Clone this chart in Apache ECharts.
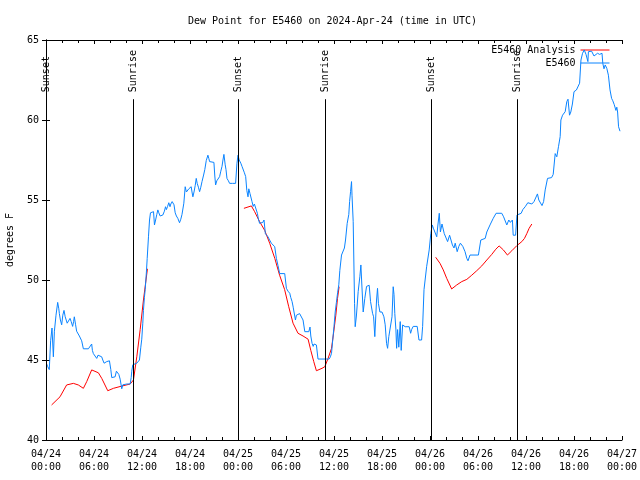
<!DOCTYPE html>
<html>
<head>
<meta charset="utf-8">
<script src="https://cdn.jsdelivr.net/npm/echarts@6/dist/echarts.min.js"></script>
<style>html,body{margin:0;padding:0;background:#fff}#c{width:640px;height:480px}</style>
</head>
<body>
<div id="c"></div>
<script>
// hours since 2024-04-24 00:00 UTC
var xTickLabels = ['04/24\n00:00','04/24\n06:00','04/24\n12:00','04/24\n18:00','04/25\n00:00','04/25\n06:00','04/25\n12:00','04/25\n18:00','04/26\n00:00','04/26\n06:00','04/26\n12:00','04/26\n18:00','04/27\n00:00'];
var sunHours = [0.1, 10.97, 24.12, 34.89, 48.16, 58.93];
var sunLabels = ['Sunset','Sunrise','Sunset','Sunrise','Sunset','Sunrise'];

var analysisHours = [0.7,1.75,2.58,3.42,4.04,4.67,5.09,5.71,6.55,6.97,7.72,8.43,9.47,10.52,10.93,11.35,11.77,12.18,12.68,18,
 24.74,25.67,26.08,26.7,27.34,27.96,28.6,29.2,29.83,30.34,30.88,31.5,32.13,32.76,33.1,33.47,33.8,34.5,34.85,35.26,35.69,35.9,36.23,36.44,36.64,42,
 48.71,49.25,49.66,50.09,50.71,51.34,51.97,52.6,53.22,53.84,54.47,55.1,55.72,56.22,56.64,57.17,57.68,58.23,58.86,59.48,59.81,60.1,60.39,60.73];
var analysisVals = [42.19,42.7,43.44,43.54,43.44,43.23,43.65,44.38,44.2,43.85,43.08,43.23,43.37,43.5,43.75,45.2,46.9,48.75,50.7,null,
 54.48,54.63,54.27,53.65,53.1,52.3,51.35,50.3,49.4,48.33,47.3,46.67,46.5,46.3,45.6,44.9,44.33,44.48,44.58,45.1,45.73,46.5,47.8,48.85,49.58,null,
 51.42,51.04,50.63,50.1,49.44,49.69,49.9,50.04,50.3,50.58,50.88,51.25,51.6,51.92,52.13,51.88,51.56,51.83,52.15,52.4,52.6,52.9,53.23,53.5];

var obsHours = [0.05,0.2,0.41,0.58,0.75,0.83,0.92,1.05,1.25,1.46,1.6,1.67,1.8,1.96,2.1,2.25,2.4,2.5,2.65,2.79,3.0,3.15,3.33,3.45,3.54,3.7,3.83,4.0,4.17,4.3,4.46,4.67,5.0,5.3,5.5,5.71,5.8,5.92,6.1,6.34,6.5,6.67,6.96,7.1,7.26,7.4,7.59,7.75,7.93,8.1,8.22,8.45,8.64,8.8,8.93,9.1,9.27,9.47,9.6,9.68,10.1,10.52,10.65,10.72,10.85,10.93,11.1,11.35,11.5,11.68,11.85,11.97,12.1,12.18,12.3,12.4,12.55,12.65,12.81,12.94,13.06,13.25,13.44,13.56,13.7,13.85,13.98,14.1,14.27,14.45,14.6,14.8,14.94,15.05,15.2,15.35,15.5,15.6,15.77,15.9,16.0,16.15,16.3,16.48,16.69,16.85,17.0,17.23,17.4,17.55,17.7,17.85,18.0,18.15,18.25,18.36,18.5,18.65,18.78,18.9,19.05,19.2,19.35,19.5,19.7,19.85,20.03,20.24,20.35,20.45,20.7,20.99,21.1,21.2,21.35,21.5,21.7,21.85,22.0,22.12,22.24,22.4,22.5,22.62,22.8,22.95,23.3,23.7,23.87,24.0,24.15,24.35,24.5,24.62,24.8,24.96,25.1,25.25,25.35,25.5,25.75,25.9,26.05,26.2,26.42,26.55,26.7,26.95,27.1,27.25,27.42,27.6,27.75,27.95,28.17,28.4,28.59,28.8,29.0,29.21,29.5,29.84,30.05,30.25,30.47,30.6,30.76,30.9,31.0,31.18,31.3,31.5,31.7,31.93,32.13,32.35,32.6,32.85,33.0,33.1,33.26,33.4,33.5,33.6,33.8,34.0,34.64,35.39,35.55,35.69,35.85,36.0,36.15,36.3,36.45,36.6,36.73,36.94,37.14,37.3,37.44,37.65,37.85,37.95,38.07,38.19,38.25,38.4,38.57,38.65,38.8,39.02,39.23,39.36,39.45,39.65,39.85,40.07,40.25,40.4,40.57,40.82,40.95,41.1,41.32,41.44,41.55,41.74,42.0,42.24,42.4,42.57,42.7,42.85,43.1,43.25,43.4,43.5,43.6,43.74,43.83,43.95,44.1,44.28,44.4,44.58,44.9,45.4,45.58,45.7,45.9,46.4,46.62,46.95,47.08,47.25,47.58,47.9,48.1,48.28,48.45,48.6,48.84,49.0,49.16,49.3,49.5,49.78,49.95,50.2,50.45,50.8,51.0,51.15,51.4,51.6,51.8,52.1,52.38,52.6,52.75,53.0,53.5,54.05,54.35,54.9,55.1,55.5,55.9,56.26,56.97,57.2,57.6,57.85,58.05,58.3,58.4,58.7,58.87,59.4,59.6,59.9,60.23,60.73,61.0,61.2,61.43,61.6,62.0,62.2,62.4,62.69,63.2,63.4,63.65,63.85,64.06,64.27,64.36,64.57,64.9,65.1,65.25,65.44,65.6,65.8,66.0,66.3,66.55,66.7,66.87,67.07,67.28,67.5,67.74,67.8,68.0,68.2,68.5,68.75,68.94,69.2,69.5,69.6,69.75,69.9,70.1,70.3,70.5,70.7,70.85,71.03,71.24,71.35,71.45,71.57,71.75];
var obsVals = [44.8,44.6,44.4,46.2,47.0,47.1,45.2,46.8,47.8,48.6,48.2,47.9,47.5,47.2,47.8,48.1,47.7,47.6,47.3,47.4,47.6,47.4,47.1,47.4,47.7,47.2,46.8,46.8,46.5,46.5,46.2,45.7,45.7,45.7,45.8,46.0,45.6,45.4,45.3,45.1,45.3,45.3,45.2,45.0,44.8,44.9,44.9,45.0,44.95,44.4,43.9,43.9,43.95,44.3,44.3,44.1,43.8,43.2,43.45,43.5,43.5,43.5,43.9,44.3,44.7,44.7,44.8,44.8,44.9,45.0,45.8,46.3,47.3,48.1,48.9,49.4,50.5,51.35,52.7,53.75,54.2,54.27,54.27,53.44,53.75,54.1,54.38,54.2,54.0,54.0,54.06,54.3,54.58,54.4,54.6,54.83,54.58,54.75,54.9,54.8,54.7,54.2,54.0,53.85,53.58,53.8,54.1,54.8,55.83,55.5,55.6,55.7,55.75,55.83,55.5,55.2,55.5,55.9,56.35,56.04,55.8,55.52,55.8,56.15,56.56,56.9,57.46,57.8,57.6,57.4,57.4,57.35,56.5,55.94,56.2,56.3,56.46,56.8,57.1,57.5,57.85,57.2,56.9,56.35,56.2,56.04,56.04,56.04,57.3,57.8,57.5,57.3,57.1,56.98,56.7,56.46,55.6,55.2,55.7,55.4,54.9,54.6,54.75,54.8,54.17,53.8,53.54,53.65,53.6,53.75,52.9,52.8,52.7,52.5,52.3,52.2,52.08,51.35,50.9,50.4,50.4,50.4,49.48,49.3,49.17,48.9,48.65,48.3,48.0,47.5,47.8,47.8,47.9,47.8,47.5,46.77,46.77,46.77,47.06,46.5,46.04,45.85,46.0,46.04,45.94,45.06,45.06,45.06,45.2,45.42,46.3,47.1,48.0,48.6,49.2,49.7,50.6,51.56,51.56,52.0,52.5,53.54,54.1,54.9,55.52,56.15,55.3,53.65,48.54,47.08,47.75,49.27,50.2,50.94,50.0,48.0,48.85,49.6,49.67,49.67,48.65,47.92,47.7,46.46,48.75,49.48,48.54,48.0,48.0,47.7,47.2,46.04,45.73,46.46,46.52,47.7,49.58,49.1,47.9,46.88,45.73,46.9,45.8,47.4,45.6,47.19,47.08,47.08,46.67,46.9,47.1,47.1,46.25,46.25,47.1,49.4,50.83,51.88,52.9,53.44,53.2,53.3,52.7,53.5,54.17,53.0,53.5,52.9,52.8,52.4,52.8,52.19,52.0,52.3,51.77,52.1,52.3,52.1,51.77,51.35,51.2,51.56,51.56,51.56,52.5,52.6,53.0,53.44,53.85,54.17,54.17,53.95,53.44,53.75,53.6,53.75,52.8,52.8,54.06,54.17,54.4,54.58,54.83,54.75,54.9,55.0,55.38,55.0,54.65,54.9,55.63,56.35,56.4,56.6,57.9,57.7,58.33,58.96,60.0,60.3,60.52,61.15,61.3,60.3,60.5,61.0,61.77,61.875,61.875,62.3,63.75,64.17,64.38,64.1,63.65,64.27,64.38,64.3,64.0,64.0,64.17,64.1,64.17,63.54,63.2,63.44,63.23,62.8,61.88,61.35,61.2,60.96,60.6,60.8,60.5,59.58,59.3];

var FONT = '"DejaVu Sans Mono", monospace';
function pairs(hs, vs) { return hs.map(function (h, i) { return [h, vs[i] == null ? '-' : vs[i]]; }); }

var chart = echarts.init(document.getElementById('c'), null, {renderer: 'canvas'});
var axisCommon = {
  type: 'value', min: 0, max: 72, interval: 6,
  axisLine: {lineStyle: {color: '#000', width: 1}},
  axisTick: {inside: true, length: 4, lineStyle: {color: '#000'}},
  minorTick: {show: true, splitNumber: 3, length: 3, lineStyle: {color: '#000'}},
  splitLine: {show: false}, minorSplitLine: {show: false}
};
var yCommon = {
  type: 'value', min: 40, max: 65, interval: 5,
  axisLine: {show: true, lineStyle: {color: '#000', width: 1}},
  axisTick: {show: true, inside: true, length: 4, lineStyle: {color: '#000'}},
  splitLine: {show: false}
};
chart.setOption({
  animation: false,
  backgroundColor: '#fff',
  textStyle: {fontFamily: FONT},
  title: {
    text: 'Dew Point for E5460 on 2024-Apr-24 (time in UTC)',
    left: 183, top: 11,
    textStyle: {fontFamily: FONT, fontSize: 10, fontWeight: 'normal', color: '#000'}
  },
  legend: {
    data: ['E5460 Analysis', 'E5460'],
    orient: 'vertical', align: 'right', right: 30, top: 45,
    itemWidth: 29, itemHeight: 10, itemGap: 3,
    lineStyle: {width: 1},
    itemStyle: {opacity: 0},
    textStyle: {fontFamily: FONT, fontSize: 10, color: '#000'},
    padding: 0
  },
  grid: {left: 46, right: 18, top: 40, bottom: 40, containLabel: false, outerBoundsMode: 'none'},
  xAxis: [
    Object.assign({}, axisCommon, {
      position: 'bottom',
      axisLabel: {
        margin: 8, fontFamily: FONT, fontSize: 10, color: '#000', lineHeight: 13,
        formatter: function (v) { return xTickLabels[Math.round(v / 6)]; }
      }
    }),
    Object.assign({}, axisCommon, {position: 'top', axisLabel: {show: false}})
  ],
  yAxis: [
    Object.assign({}, yCommon, {
      position: 'left', name: 'degrees F', nameLocation: 'middle', nameGap: 31,
      nameTextStyle: {fontFamily: FONT, fontSize: 10, color: '#000'},
      axisLabel: {margin: 7, fontFamily: FONT, fontSize: 10, color: '#000'}
    }),
    Object.assign({}, yCommon, {position: 'right', axisLabel: {show: false}})
  ],
  series: [
    {
      name: 'E5460 Analysis', type: 'line', symbol: 'none', connectNulls: false,
      xAxisIndex: 0, yAxisIndex: 0,
      lineStyle: {color: '#ff0000', width: 1}, itemStyle: {color: '#ff0000'},
      data: pairs(analysisHours, analysisVals), z: 3
    },
    {
      name: 'E5460', type: 'line', symbol: 'none',
      xAxisIndex: 0, yAxisIndex: 0,
      lineStyle: {color: '#0a84ff', width: 1}, itemStyle: {color: '#0a84ff'},
      data: pairs(obsHours, obsVals), z: 4
    },
    {
      type: 'custom', xAxisIndex: 0, yAxisIndex: 0, z: 5,
      data: sunHours.map(function (h, i) { return [h, i]; }),
      encode: {x: 0},
      renderItem: function (params, api) {
        var t = api.value(0);
        var p0 = api.coord([t, 40]);
        var p1 = api.coord([t, 61.3]);
        var x = Math.floor(p0[0]) + 0.5;
        return {
          type: 'group',
          children: [
            {type: 'line', shape: {x1: x, y1: p0[1], x2: x, y2: p1[1]}, style: {stroke: '#000', lineWidth: 1}},
            {type: 'text', x: x, y: p1[1] - 7, rotation: Math.PI / 2,
              style: {text: sunLabels[params.dataIndex], font: '10px ' + FONT, fill: '#000', align: 'left', verticalAlign: 'middle'}}
          ]
        };
      }
    }
  ]
});
</script>
</body>
</html>
